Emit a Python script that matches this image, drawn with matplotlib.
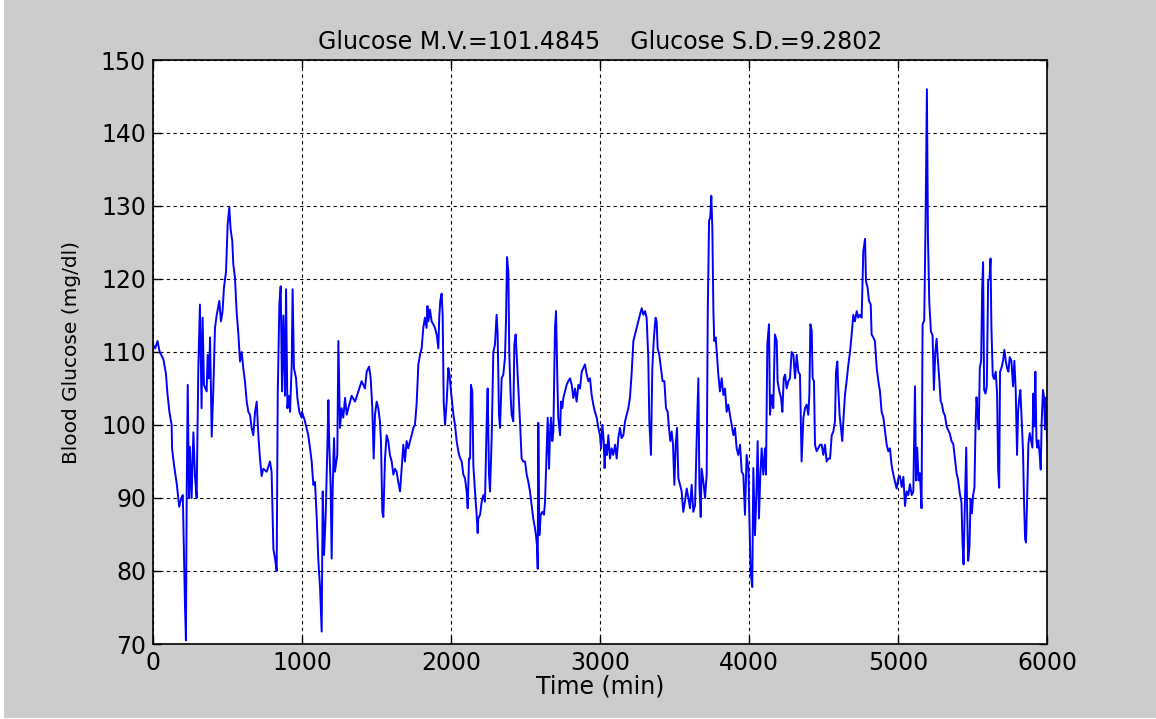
import numpy as np
import matplotlib.pyplot as plt
from matplotlib.patches import Rectangle

## Data (time in min, glucose in mg/dl)
t1 = [0, 15, 30, 45, 70, 87, 96, 110, 125, 128, 141, 159, 170, 176, 190, 200, 215, 221, 226, 233,
      242, 248, 259, 271, 282, 293, 304, 315, 326, 333, 342, 360, 367, 376, 383, 394, 405, 416, 427,
      445, 456, 467, 476, 490, 501, 512, 521, 532, 539, 550, 561, 573, 584, 595, 606, 617, 629, 640,
      651, 662, 673, 685, 696, 707, 718, 729, 740, 763, 785, 796, 808, 819, 830, 837, 848, 857, 866,
      875, 886, 893, 902, 911, 920, 931, 937, 946, 960, 969, 982, 998]
g1 = [111, 110.5, 111.5, 110, 109, 107, 104.5, 101.8, 100, 96.8, 94.5, 92, 90, 88.8, 90, 90.4, 75, 70.5, 90, 105.5,
      90, 97, 90, 99, 93, 90, 107.6, 116.5, 102.3, 114.7, 105.5, 104.6, 109.6, 106.4, 112, 98.4, 105, 113.3, 115,
      117, 114.2, 115.6, 118.8, 121, 127.5, 129.8, 126.8, 125.2, 122, 120.2, 115.6, 112.4, 108.7, 110, 107.8, 106, 103.2, 101.8,
      101.4, 99.6, 98.6, 101.8, 103.2, 98.6, 95.4, 93, 94, 93.6, 95, 93.6, 83, 81.7, 80, 104, 116.5, 119, 104.6,
      115, 104, 118.6, 102.3, 104, 101.8, 108.3, 118.6, 107.8, 106.4, 103.7, 101.8, 101]

t2 = [1000, 1020, 1042, 1054, 1065, 1076, 1087, 1098, 1110, 1121, 1132, 1139, 1148, 1159, 1170, 1177, 1183, 1192,
      1199, 1206, 1215, 1221, 1237, 1244, 1255, 1266, 1277, 1289, 1300, 1311, 1333, 1356, 1378, 1400, 1423, 1434,
      1450, 1461, 1472, 1481, 1490, 1501, 1512, 1523, 1530, 1539, 1546, 1557, 1568, 1579, 1590, 1602, 1613, 1624,
      1635, 1646, 1658, 1669, 1680, 1691, 1702, 1713, 1725, 1736, 1747, 1758, 1769, 1781, 1792, 1803, 1814, 1825,
      1836, 1842, 1848, 1859, 1870, 1881, 1892, 1904, 1915, 1921, 1928, 1937, 1944, 1951, 1960, 1971, 1982, 1990]
g2 = [101.8, 100.5, 98.6, 96.8, 95, 91.8, 92.2, 87.7, 81.3, 77.8, 71.7, 90.9, 82.2, 87.7, 96.8, 103.4, 97.3, 91.8,
      81.7, 91.3, 98.2, 93.6, 95.9, 111.5, 99.6, 102.3, 101, 103.7, 101.4, 102.3, 104, 103.2, 104.6, 106, 105, 107.3,
      108, 106.4, 102.3, 95.4, 101.4, 103.2, 102.3, 100.5, 97.8, 88.1, 87.4, 95.4, 98.6, 97.8, 95.9, 95, 93.2, 94,
      93.6, 92.2, 90.9, 94, 97.3, 95, 97.8, 96.8, 97.8, 98.6, 99.6, 100, 102.8, 108.3, 109.6, 110.5, 113.3, 114.7,
      113.3, 116.3, 114.2, 115.8, 114.2, 113.8, 113.3, 112.4, 110.5, 114.7, 117, 118, 115.1, 103.2, 100, 103.2, 107.8, 106.9]

t3 = [2000, 2016, 2027, 2038, 2049, 2060, 2072, 2083, 2094, 2105, 2112, 2121, 2128, 2134, 2143, 2150, 2161, 2172,
      2179, 2183, 2195, 2206, 2217, 2228, 2239, 2246, 2255, 2262, 2273, 2284, 2295, 2306, 2313, 2322, 2329, 2340,
      2351, 2362, 2369, 2376, 2385, 2391, 2400, 2407, 2418, 2425, 2434, 2441, 2452, 2463, 2474, 2485, 2497, 2508,
      2519, 2530, 2541, 2552, 2564, 2570, 2577, 2582, 2586, 2593, 2602, 2613, 2624, 2631, 2642, 2649, 2658, 2664,
      2671, 2680, 2687, 2698, 2705, 2714, 2720, 2732, 2738, 2747, 2754, 2765, 2776, 2787, 2799, 2810, 2821, 2832,
      2843, 2855, 2866, 2877, 2888, 2899, 2911, 2922, 2933, 2944, 2955, 2966, 2978, 2989]
g3 = [104.6, 101.4, 100, 97.8, 96.4, 95.5, 95, 93.2, 92.7, 90.9, 88.6, 95.4, 95.4, 105.5, 104.6, 94.5, 90.9, 87.7,
      85.2, 87.2, 87.7, 89.5, 90.4, 89.5, 100, 105, 93.2, 90.9, 98.2, 110, 111, 115.1, 112.4, 101.4, 99.6, 106.4,
      106.9, 109.2, 114.2, 123, 121, 110, 104.1, 101.4, 100.5, 111, 112.4, 109.6, 105, 100.5, 95.4, 95, 95, 93.2,
      92.2, 90.9, 89, 87.2, 85.8, 84.9, 83.5, 80.3, 100.3, 84.9, 87.7, 88.1, 87.7, 89.5, 96.8, 101, 94, 98.6,
      101, 97.8, 99.1, 113.3, 115.6, 106, 101, 98.6, 103.2, 102.3, 103.7, 104.6, 105.5, 106, 106.4, 105.5, 103.7, 105,
      103.2, 105.5, 105, 107.3, 107.8, 108.3, 106.9, 106, 106.4, 104.1, 102.8, 101.8, 101, 99.6]

t4 = [3000, 3007, 3016, 3025, 3031, 3038, 3047, 3056, 3067, 3078, 3089, 3101, 3112, 3123, 3134, 3145, 3157, 3168,
      3179, 3190, 3201, 3213, 3224, 3235, 3246, 3257, 3268, 3280, 3291, 3302, 3313, 3324, 3331, 3342, 3351, 3362,
      3373, 3380, 3387, 3398, 3409, 3420, 3432, 3443, 3454, 3463, 3472, 3481, 3490, 3499, 3508, 3517, 3526, 3537,
      3548, 3559, 3570, 3582, 3593, 3604, 3615, 3626, 3638, 3649, 3660, 3667, 3676, 3682, 3694, 3705, 3716, 3723,
      3732, 3740, 3747, 3754, 3761, 3767, 3776, 3785, 3794, 3805, 3817, 3828, 3839, 3850, 3861, 3872, 3884, 3895,
      3906, 3917, 3928, 3940, 3951, 3962, 3973, 3984, 3996]
g4 = [98.6, 96.8, 100, 97.8, 94.1, 97.3, 95.9, 98.6, 95.4, 96.8, 95.9, 97.3, 95.4, 98.2, 99.6, 98.2, 98.6, 100.5,
      101.4, 102.3, 103.7, 107.3, 111.5, 112.4, 113.3, 114.2, 115.1, 116, 115.1, 115.6, 114.7, 109.2, 100.5, 95.9, 107.8, 112,
      114.7, 114.2, 110.5, 109.6, 107.8, 106, 106, 102.3, 101.8, 99.6, 97.8, 99.1, 97.3, 91.8, 97.3, 99.6, 92.7, 91.8,
      90.9, 88.1, 89.5, 91.3, 90, 88.6, 91.8, 88.1, 89, 98.2, 106.4, 91.8, 87.4, 94, 92.2, 90, 93.2, 115.1,
      128, 128.4, 131.4, 127, 115.6, 111.5, 112, 109.6, 106.9, 104.6, 106.4, 104.1, 105, 101.8, 102.8, 101.4, 100, 98.6,
      99.6, 96.8, 95.9, 97.3, 93.6, 93.2, 87.7, 95.9, 94]

t5 = [4002, 4011, 4022, 4029, 4040, 4049, 4058, 4067, 4076, 4085, 4096, 4107, 4114, 4123, 4134, 4141, 4152, 4163,
      4174, 4186, 4192, 4204, 4215, 4224, 4233, 4242, 4253, 4264, 4275, 4286, 4298, 4309, 4320, 4331, 4342, 4353,
      4365, 4376, 4387, 4398, 4405, 4412, 4421, 4427, 4436, 4443, 4454, 4465, 4477, 4488, 4499, 4510, 4521, 4532,
      4544, 4555, 4566, 4577, 4584, 4593, 4599, 4608, 4617, 4626, 4633, 4644, 4655, 4667, 4678, 4689, 4700, 4711,
      4723, 4734, 4745, 4756, 4767, 4779, 4785, 4796, 4805, 4817, 4823, 4834, 4845, 4857, 4868, 4879, 4890, 4902,
      4913, 4924, 4935, 4946, 4957, 4969, 4980, 4991]
g5 = [87.7, 79.9, 77.8, 94.1, 84.9, 90, 97.8, 87.2, 93.2, 96.8, 93.2, 96.8, 93.2, 111, 113.8, 101.4, 104.1, 102.3,
      112.4, 111.5, 106, 104.6, 103.7, 101.8, 106.4, 106.9, 105, 106, 106.4, 110, 109.6, 106.4, 109.6, 107.3, 106.9, 95,
      101, 102.3, 102.8, 101.4, 104.1, 113.8, 112.9, 106.4, 106, 97.3, 96.4, 96.8, 97.3, 97.3, 95.9, 97.3, 95, 95.4,
      95.4, 98.6, 99.1, 100.5, 107.3, 108.7, 105, 101.4, 99.6, 97.8, 100.5, 104.1, 106, 108.3, 110, 112.4, 115.1, 114.2,
      115.6, 114.7, 115.1, 114.7, 123.8, 125.5, 119.7, 118.8, 117, 116.5, 112.4, 112, 111.5, 107.8, 106, 104.6, 101.8, 101,
      99.1, 97.3, 96.4, 96.8, 94.5, 93.2, 92.2, 91.3]

t6 = [5002, 5013, 5025, 5036, 5047, 5058, 5069, 5080, 5092, 5103, 5114, 5121, 5129, 5138, 5147, 5158, 5165, 5176,
      5185, 5194, 5201, 5210, 5221, 5232, 5241, 5250, 5259, 5268, 5277, 5286, 5295, 5304, 5315, 5326, 5337, 5348,
      5359, 5371, 5382, 5393, 5404, 5415, 5426, 5433, 5440, 5449, 5458, 5464, 5471, 5480, 5487, 5496, 5504, 5513,
      5520, 5527, 5533, 5542, 5549, 5558, 5565, 5571, 5578, 5587, 5596, 5605, 5614, 5621, 5627, 5636, 5645, 5656,
      5665, 5672, 5679, 5685, 5694, 5705, 5714, 5723, 5732, 5741, 5750, 5761, 5772, 5781, 5790, 5799, 5806, 5812,
      5821, 5830, 5839, 5846, 5853, 5859, 5866, 5875, 5884, 5893, 5902, 5908, 5915, 5922, 5929, 5935, 5942, 5951,
      5958, 5964, 5973, 5980, 5987, 5996, 6000]
g6 = [92.7, 93, 91.5, 92.9, 88.9, 90.9, 90.4, 91.9, 90.4, 90.9, 105.3, 92.4, 96.9, 92.4, 93.4, 88.6, 113.8, 114.3,
      127.8, 146, 125.8, 116.8, 112.8, 112.3, 104.8, 109.8, 111.8, 108.8, 106.3, 103.3, 102.8, 101.8, 101.3, 99.8, 99.3, 98.8,
      97.8, 97.4, 95.4, 93.4, 92.4, 90.6, 89.4, 83.9, 80.9, 89.4, 96.9, 88.4, 81.4, 83.4, 89.9, 87.9, 90.4, 91.4,
      99.4, 103.8, 101.8, 99.4, 107.8, 108.8, 118.8, 122.3, 104.8, 104.3, 105.3, 119.8, 120, 122.8, 113.3, 106.8, 106.3, 107.3,
      104.3, 93.9, 91.4, 107.3, 107.8, 108.8, 110.3, 108.8, 107.8, 107.3, 109.3, 108.8, 105.3, 108.8, 104.8, 95.9, 101.8, 103.3,
      104.8, 100.8, 96.4, 89.4, 84.4, 83.9, 89.4, 97.4, 98.9, 97.9, 96.9, 104.3, 99.8, 107.3, 97.9, 96.9, 97.9, 95.9,
      93.9, 100.3, 104.8, 103.8, 99.4, 103.8, 97.9]

time = np.array(t1 + t2 + t3 + t4 + t5 + t6)
glucose = np.array(g1 + g2 + g3 + g4 + g5 + g6)

mv = 101.4845
sd = 9.2802

# the original text is wide (horizontally stretched Arial), DejaVu comes closer
plt.rcParams['font.family'] = ['DejaVu Sans']

fig = plt.figure(figsize=(11.56, 7.19), dpi=100, facecolor='white')
# grey MATLAB-style background with a thin white edge
fig.patches.append(Rectangle((4/1156, 1/719), 1, 1, transform=fig.transFigure,
                             facecolor='#cccccc', edgecolor='none', zorder=-10))
ax = fig.add_axes([153/1156, 1 - 644/719, 894/1156, 584/719])

ax.plot(time, glucose, color='#0000ff', lw=1.4)

ax.set_xlim(0, 6000)
ax.set_ylim(70, 150)
ax.set_xticks(np.arange(0, 6001, 1000))
ax.set_yticks(np.arange(70, 151, 10))
ax.grid(True, color='black', linestyle=(0, (3, 3)), linewidth=0.8)
ax.tick_params(direction='in', top=True, right=True, length=6, width=1, labelsize=17, pad=5)
for s in ax.spines.values():
    s.set_linewidth(1.2)

ax.set_xlabel('Time (min)', fontsize=17, labelpad=0)
ax.set_ylabel('Blood Glucose (mg/dl)', fontsize=14.5, labelpad=14)
ax.set_title('Glucose M.V.=%.4f    Glucose S.D.=%.4f' % (mv, sd), fontsize=17, pad=8)

fig.savefig('out.png', dpi=100)
